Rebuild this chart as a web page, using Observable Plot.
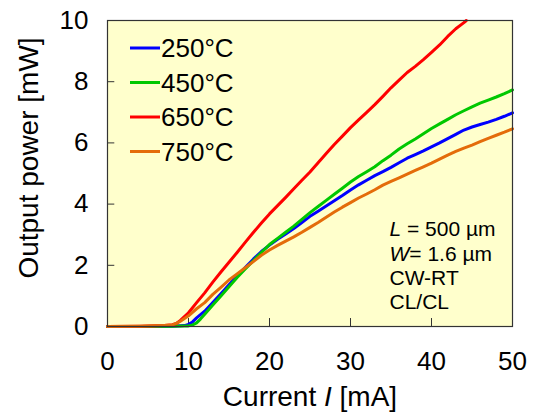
<!DOCTYPE html>
<html>
<head>
<meta charset="utf-8">
<script src="https://cdn.jsdelivr.net/npm/d3@7"></script>
<script src="https://cdn.jsdelivr.net/npm/@observablehq/plot@0.6"></script>
<style>
  html, body { margin: 0; padding: 0; background: white; }
  #chart { width: 534px; height: 412px; }
</style>
</head>
<body>
<div id="chart"></div>
<script>
// ---- Data ----
const seriesNames = ["250°C", "450°C", "650°C", "750°C"];
const seriesColors = ["#0000ff", "#00c800", "#ff0000", "#e46c0a"];

const xTicks = [0, 10, 20, 30, 40, 50];
const yTicks = [0, 2, 4, 6, 8, 10];

const current250 = [0, 4, 8, 9.5, 10, 10.5, 11, 12, 13, 14, 15, 16, 17, 18, 19, 20, 21, 22, 23, 24, 25, 26, 27, 28, 29, 30, 31, 32, 33, 34, 35, 36, 37, 38, 39, 40, 41, 42, 43, 44, 45, 46, 47, 48, 49, 50];
const power250   = [0, 0, 0.01, 0.03, 0.07, 0.15, 0.28, 0.5, 0.78, 1.07, 1.36, 1.65, 1.93, 2.2, 2.45, 2.66, 2.85, 3.02, 3.2, 3.4, 3.6, 3.77, 3.94, 4.11, 4.28, 4.46, 4.63, 4.78, 4.93, 5.06, 5.2, 5.35, 5.5, 5.62, 5.74, 5.87, 6.0, 6.14, 6.28, 6.42, 6.52, 6.6, 6.68, 6.77, 6.87, 6.98];

const current450 = [0, 4, 8, 9.5, 10, 10.5, 11, 11.5, 12, 13, 14, 15, 16, 17, 18, 19, 20, 21, 22, 23, 24, 25, 26, 27, 28, 29, 30, 31, 32, 33, 34, 35, 36, 37, 38, 39, 40, 41, 42, 43, 44, 45, 46, 47, 48, 49, 50];
const power450   = [0, 0, 0.01, 0.02, 0.02, 0.05, 0.12, 0.25, 0.4, 0.7, 1.0, 1.3, 1.6, 1.88, 2.15, 2.42, 2.68, 2.88, 3.08, 3.28, 3.5, 3.72, 3.92, 4.12, 4.32, 4.52, 4.72, 4.9, 5.06, 5.22, 5.42, 5.6, 5.8, 5.97, 6.13, 6.3, 6.47, 6.62, 6.77, 6.92, 7.05, 7.18, 7.3, 7.4, 7.5, 7.61, 7.73];

const current650 = [0, 4, 7, 8, 8.5, 9, 10, 11, 12, 13, 14, 15, 16, 17, 18, 19, 20, 21, 22, 23, 24, 25, 26, 27, 28, 29, 30, 31, 32, 33, 34, 35, 36, 37, 38, 39, 40, 41, 42, 43, 44, 44.3];
const power650   = [0, 0.01, 0.03, 0.06, 0.1, 0.2, 0.45, 0.78, 1.1, 1.45, 1.78, 2.1, 2.42, 2.75, 3.07, 3.38, 3.68, 3.95, 4.22, 4.5, 4.78, 5.05, 5.35, 5.65, 5.95, 6.22, 6.5, 6.75, 7.0, 7.25, 7.52, 7.8, 8.05, 8.3, 8.5, 8.72, 8.96, 9.2, 9.48, 9.73, 9.93, 10];

const current750 = [0, 4, 7, 8, 8.5, 9, 10, 11, 12, 13, 14, 15, 16, 17, 18, 19, 20, 21, 22, 23, 24, 25, 26, 27, 28, 29, 30, 31, 32, 33, 34, 35, 36, 37, 38, 39, 40, 41, 42, 43, 44, 45, 46, 47, 48, 49, 50];
const power750   = [0, 0.01, 0.03, 0.05, 0.1, 0.17, 0.35, 0.58, 0.78, 1.05, 1.28, 1.52, 1.72, 1.92, 2.12, 2.33, 2.5, 2.65, 2.79, 2.93, 3.08, 3.24, 3.4, 3.57, 3.74, 3.9, 4.05, 4.2, 4.33, 4.47, 4.62, 4.74, 4.86, 4.98, 5.1, 5.22, 5.34, 5.47, 5.6, 5.72, 5.83, 5.93, 6.04, 6.15, 6.25, 6.35, 6.46];

const annotationLines = ["L = 500 µm", "W= 1.6 µm", "CW-RT", "CL/CL"];
const xLabel = "Current I [mA]";
const yLabel = "Output power [mW]";

// ---- Build table ----
const allCurrents = [current250, current450, current650, current750];
const allPowers = [power250, power450, power650, power750];
const data = [];
seriesNames.forEach((name, s) => {
  allCurrents[s].forEach((c, i) => data.push({series: name, current: c, power: allPowers[s][i]}));
});

const font = "'Liberation Sans', Arial, Helvetica, sans-serif";
const annDy = [209, 234, 258, 282];

const svg = Plot.plot({
  width: 534,
  height: 412,
  marginLeft: 107,
  marginRight: 22,
  marginTop: 20,
  marginBottom: 86,
  style: {fontFamily: font, background: "white", color: "black", overflow: "visible"},
  x: {domain: [0, 50]},
  y: {domain: [0, 10]},
  color: {domain: seriesNames, range: seriesColors},
  marks: [
    Plot.frame({fill: "#ffffcc"}),
    Plot.ruleX(xTicks, {y1: 0, y2: 0.26, stroke: "#333", strokeWidth: 1}),
    Plot.ruleY(yTicks, {x1: 0, x2: 0.9, stroke: "#333", strokeWidth: 1}),
    Plot.line(data, {x: "current", y: "power", z: "series", stroke: "series", strokeWidth: 3}),
    Plot.frame({stroke: "#333", strokeWidth: 1.2}),
    Plot.axisX({ticks: xTicks, tickSize: 0, tickPadding: 25, fontSize: 26, label: null}),
    Plot.axisY({ticks: yTicks, tickSize: 0, tickPadding: 19, fontSize: 26, label: null}),
    Plot.text([yLabel], {frameAnchor: "top-left", dx: -78, dy: 137.5, rotate: -90, fontSize: 28, textAnchor: "middle", lineAnchor: "middle"}),
    Plot.text([xLabel], {frameAnchor: "bottom", dy: 71, fontSize: 28, textAnchor: "middle", lineAnchor: "middle"}),
    ...annotationLines.map((t, i) => Plot.text([t], {frameAnchor: "top-left", dx: 282, dy: annDy[i], fontSize: 21, textAnchor: "start", lineAnchor: "middle"}))
  ]
});

// italic parts
const NS = "http://www.w3.org/2000/svg";
function italicize(el, parts) {
  while (el.firstChild) el.removeChild(el.firstChild);
  parts.forEach(([txt, it]) => {
    const ts = document.createElementNS(NS, "tspan");
    ts.textContent = txt;
    if (it) ts.setAttribute("font-style", "italic");
    el.appendChild(ts);
  });
}
svg.querySelectorAll("text").forEach(t => {
  const s = t.textContent;
  if (s === xLabel) italicize(t, [["Current ", false], ["I", true], [" [mA]", false]]);
  else if (s === annotationLines[0]) italicize(t, [["L", true], [" = 500 µm", false]]);
  else if (s === annotationLines[1]) italicize(t, [["W", true], ["= 1.6 µm", false]]);
});

// legend
const lg = d3.select(svg).append("g").attr("font-family", font).attr("font-size", 26).attr("text-anchor", "start");
const legendY = [48, 82.5, 117, 151.5];
seriesNames.forEach((name, i) => {
  lg.append("line").attr("x1", 130).attr("x2", 160).attr("y1", legendY[i]).attr("y2", legendY[i])
    .attr("stroke", seriesColors[i]).attr("stroke-width", 3);
  lg.append("text").attr("x", 161).attr("y", legendY[i]).attr("dy", "0.36em")
    .attr("text-anchor", "start").attr("fill", "black").text(name);
});

document.getElementById("chart").appendChild(svg);
</script>
</body>
</html>
